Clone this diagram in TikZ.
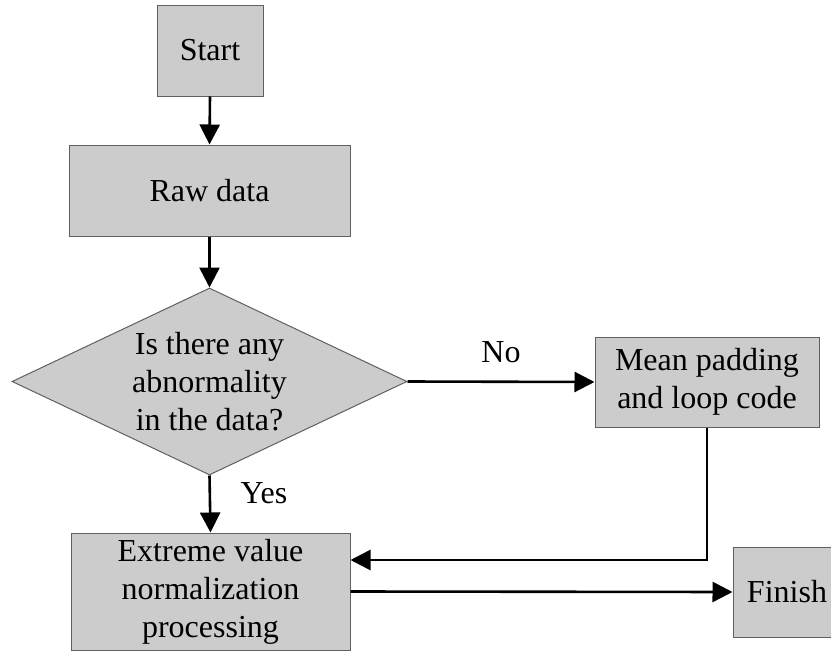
\documentclass[tikz,border=0pt]{standalone}
\usepackage{fontspec}
\setmainfont{Liberation Serif}
\usetikzlibrary{arrows.meta,shapes.geometric}
\definecolor{boxfill}{HTML}{CCCCCC}
\definecolor{boxline}{HTML}{606060}
\begin{document}
\begin{tikzpicture}[x=1pt,y=1pt,
  every node/.style={font=\fontsize{32pt}{38pt}\selectfont},
  procbox/.style={draw=boxline,line width=1pt,fill=boxfill,inner sep=0pt,align=center},
  decbox/.style={diamond,draw=boxline,line width=1pt,fill=boxfill,inner sep=0pt},
  conn/.style={line width=2.6pt,-{Triangle[length=20pt,width=20pt]}}]
\useasboundingbox (0,0) rectangle (831,-653);
\node[procbox,minimum width=106pt,minimum height=91pt] (start) at (210,-50.5) {Start};
\node[procbox,minimum width=281pt,minimum height=91pt] (raw) at (209.5,-190.5) {Raw data};
\node[decbox,minimum width=395pt,minimum height=187pt] (dia) at (209.5,-381.5) {};
\node[align=center,inner sep=0pt] (diatext) at (dia.center) {Is there any\\abnormality\\in the data?};
\node[procbox,minimum width=224pt,minimum height=90pt] (mean) at (707,-382) {Mean padding\\and loop code};
\node[procbox,minimum width=279pt,minimum height=117pt] (ext) at (210.5,-591.5) {Extreme value\\normalization\\processing};
\node[procbox,minimum width=108pt,minimum height=90pt] (fin) at (787,-592) {Finish};
\coordinate (back) at ([yshift=31.5pt]ext.east);
\draw[conn] (start.south) -- (raw.north);
\draw[conn] (raw.south) -- (dia.north);
\draw[conn] (dia.east) -- node[above=14pt] (nolbl) {No} (mean.west);
\draw[conn] (dia.south) -- (ext.north);
\node (yeslbl) at (264,-493) {Yes};
\draw[conn] (mean.south) |- (back);
\draw[conn] (ext.east) -- (fin.west);
\end{tikzpicture}
\end{document}
